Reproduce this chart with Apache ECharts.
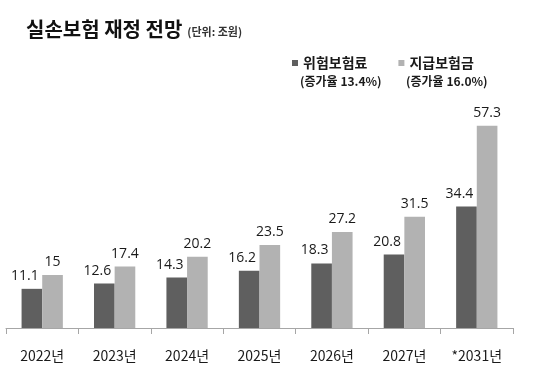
<!DOCTYPE html>
<html>
<head>
<meta charset="utf-8">
<script src="https://cdn.jsdelivr.net/npm/echarts@6/dist/echarts.min.js"></script>
<style>
  html, body { margin: 0; padding: 0; background: #fff; }
  #main { width: 540px; height: 375px; }
</style>
</head>
<body>
<div id="main"></div>
<script>
var years = ["2022년", "2023년", "2024년", "2025년", "2026년", "2027년", "*2031년"];
var premium = [11.1, 12.6, 14.3, 16.2, 18.3, 20.8, 34.4];
var payout = [15, 17.4, 20.2, 23.5, 27.2, 31.5, 57.3];
var seriesNames = ["위험보험료", "지급보험금"];
var growthLabels = ["(증가율 13.4%)", "(증가율 16.0%)"];

var C = { dark: "#5f5f5f", light: "#b2b2b2", text: "#1a1a1a", axis: "#a6a6a6" };
var KR = "'Noto Sans CJK KR', sans-serif";
var NUM = "'Open Sans', 'Noto Sans', sans-serif";

var chart = echarts.init(document.getElementById("main"));

// value labels sit a little to the left on the dark bars, like the original
function labelOpt(dx) {
  return {
    show: true,
    position: "top",
    distance: 6,
    offset: [dx, 0],
    color: C.text,
    fontSize: 14,
    fontFamily: NUM
  };
}

chart.setOption({
  animation: false,
  title: {
    left: 21,
    top: 14,
    text: "{a|실손보험 재정 전망} {b|(단위: 조원)}",
    textStyle: {
      rich: {
        a: { fontSize: 20, fontWeight: "bold", color: "#111", fontFamily: KR },
        b: { fontSize: 11, color: "#333", fontFamily: KR, padding: [6, 0, 0, 0] }
      }
    }
  },
  legend: {
    data: seriesNames,
    left: 287,
    top: 51,
    icon: "rect",
    itemWidth: 6,
    itemHeight: 6,
    itemGap: 31,
    itemStyle: { borderWidth: 0 },
    textStyle: { fontSize: 14, fontWeight: "bold", color: C.text, fontFamily: KR }
  },
  graphic: growthLabels.map(function (t, i) {
    return {
      type: "text",
      left: 300 + i * 106,
      top: 75,
      style: { text: t, fontSize: 12, fontWeight: "bold", fill: C.text, fontFamily: KR }
    };
  }),
  grid: { left: 6, right: 27, top: 81, bottom: 47 },
  xAxis: {
    type: "category",
    data: years,
    axisLine: { lineStyle: { color: C.axis } },
    axisTick: { show: true, length: 6, lineStyle: { color: C.axis } },
    axisLabel: { color: C.text, fontSize: 14, fontFamily: KR, margin: 21 }
  },
  yAxis: {
    type: "value",
    min: 0,
    max: 70,
    show: false,
    splitLine: { show: false }
  },
  series: [
    {
      name: seriesNames[0],
      type: "bar",
      data: premium,
      barGap: "0%",
      barCategoryGap: "43%",
      itemStyle: { color: C.dark },
      label: labelOpt(-7)
    },
    {
      name: seriesNames[1],
      type: "bar",
      data: payout,
      itemStyle: { color: C.light },
      label: labelOpt(0)
    }
  ]
});
</script>
</body>
</html>
